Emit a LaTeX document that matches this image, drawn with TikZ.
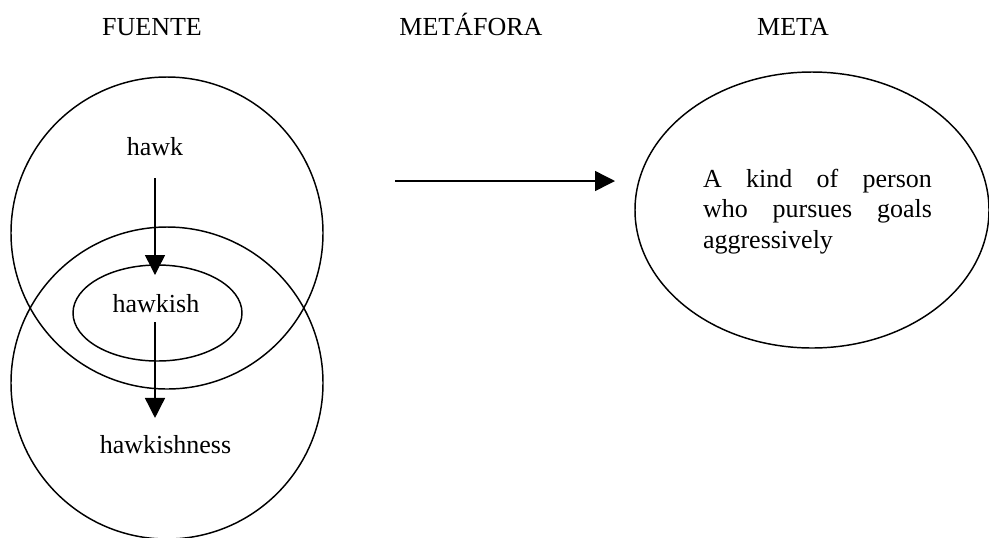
\documentclass[tikz,border=0pt]{standalone}
\usepackage{fontspec}
\setmainfont{Liberation Serif}
\usetikzlibrary{arrows.meta,shapes.geometric,calc}
\begin{document}
\begin{tikzpicture}[x=0.75pt,y=-0.75pt,
  every node/.style={inner sep=0pt,outer sep=0pt,font=\fontsize{19.5}{22.9}\selectfont},
  label/.style={anchor=base},
  field/.style={draw,line width=1.1pt,circle,minimum size=234pt},
  zone/.style={draw,line width=1.1pt,ellipse},
  arr/.style={line width=1.1pt,-{Triangle[length=15pt,width=15pt]}}]
\useasboundingbox (0,0) rectangle (989,537);

% column headings
\node[label] (hdrsource)   at (152,35) {FUENTE};
\node[label] (hdrmetaphor) at (471,35) {METÁFORA};
\node[label] (hdrtarget)   at (793,35) {META};

% source domain: two overlapping circles and the inner ellipse
\node[field] (upper) at (167,233) {};
\node[field] (lower) at (167,383) {};
\node[zone,minimum width=126.75pt,minimum height=72pt] (inner) at (157.5,313) {};

\node[label] (hawk)        at (155,155)   {hawk};
\node[label] (hawkish)     at (156,312)   {hawkish};
\node[label] (hawkishness) at (165.5,453) {hawkishness};

\draw[arr] ($(hawk.south)+(0,23)$) -- ($(hawk.south |- inner.north)+(0,10)$);
\draw[arr] ($(hawk.south |- hawkish.south)+(0,10)$) -- ($(hawk.south |- hawkishness.north)+(0,-17)$);

% mapping arrow
\coordinate (mapstart) at (395,181);
\coordinate (mapend)   at (615,181);
\draw[arr] (mapstart) -- (mapend);

% target domain
\node[zone,minimum width=265.5pt,minimum height=207pt] (targetzone) at (812,210) {};
\node[anchor=north west,align=left] (targettext) at (703,169) {%
  \makebox[171.75pt][s]{A kind of person}\\
  \makebox[171.75pt][s]{who pursues goals}\\
  aggressively};
\end{tikzpicture}
\end{document}
